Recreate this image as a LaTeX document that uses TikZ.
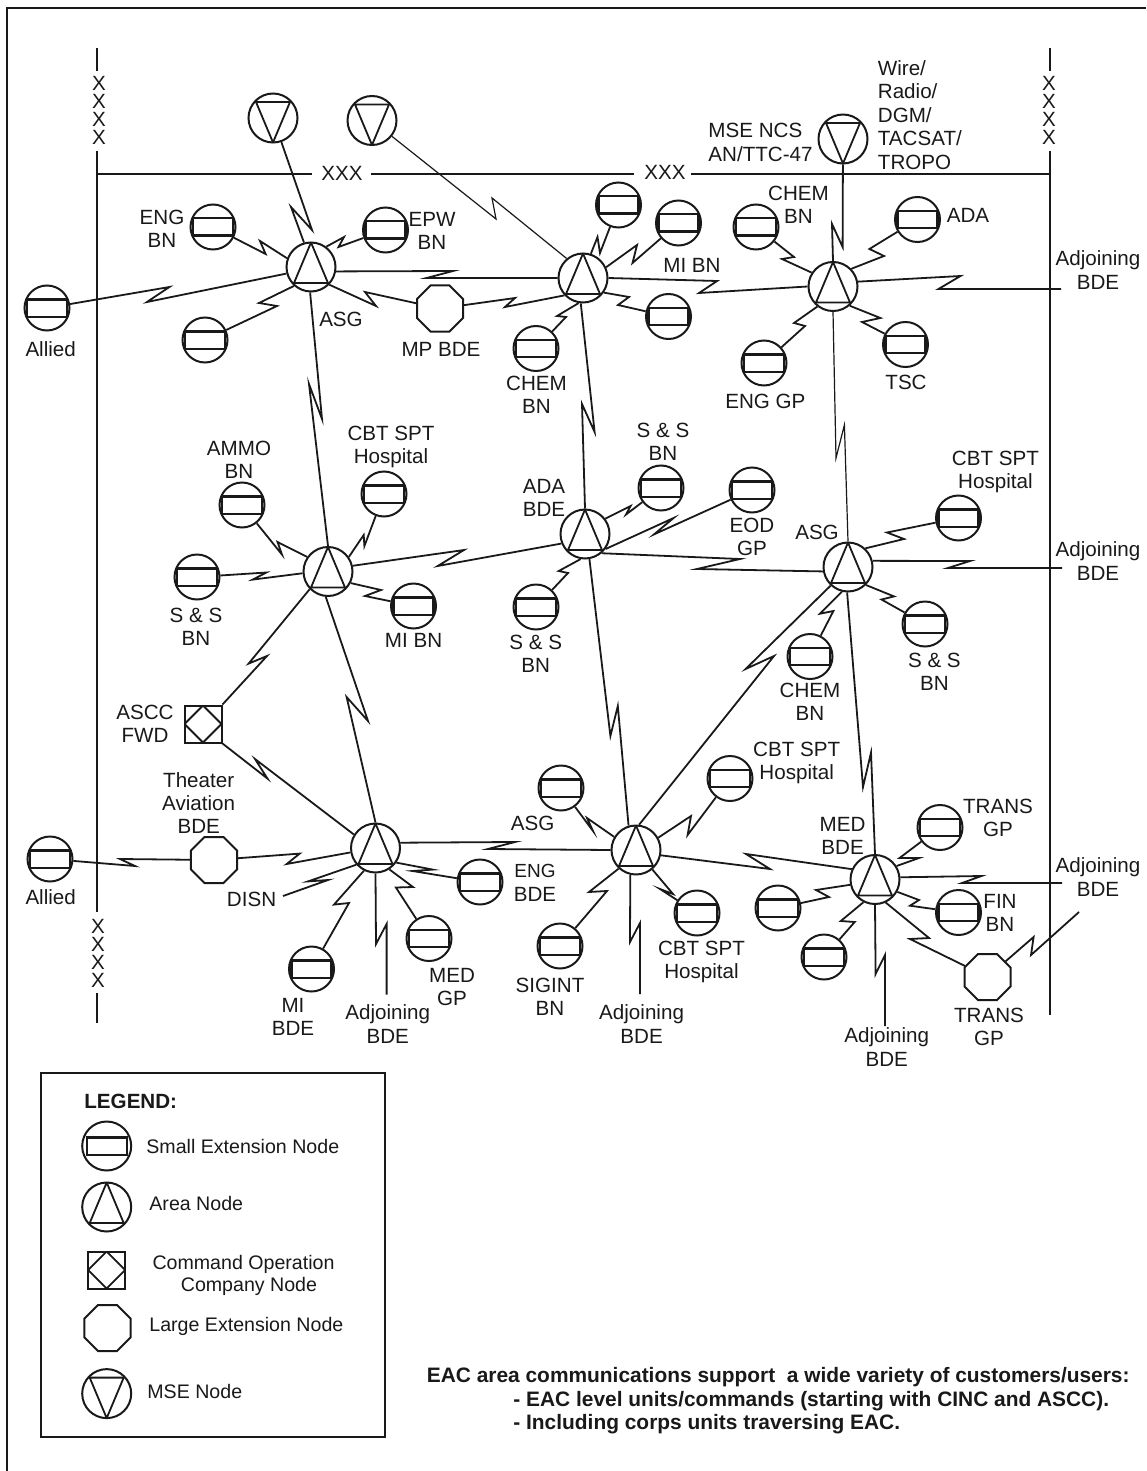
\documentclass[tikz,border=0pt]{standalone}
\usepackage{fontspec}
\setmainfont{Liberation Sans}
\usepackage{xcolor}
\usetikzlibrary{shapes.geometric}
\definecolor{ink}{gray}{0.1}
\tikzset{
	lbl/.style={inner sep=0pt,align=center,font=\fontsize{10.3}{11.7}\selectfont,text=ink},
	lgd/.style={inner sep=0pt,font=\fontsize{9.8}{10.8}\selectfont,text=ink},
	bold/.style={inner sep=0pt,anchor=west,font=\fontsize{10.3}{12}\selectfont\bfseries,text=ink},
	note/.style={bold,font=\fontsize{10.45}{12}\selectfont\bfseries},
	link/.style={draw=ink,line width=0.9pt,line join=miter},
	thinlink/.style={draw=ink,line width=0.6pt},
	bound/.style={draw=ink,line width=1pt},
	sen/.style={circle,draw=ink,line width=1pt,minimum size=#1,inner sep=0pt,path picture={
		\draw[line width=1.1pt,draw=ink] ([shift={(-10pt,-4.3pt)}]path picture bounding box.center) rectangle ([shift={(10pt,4.3pt)}]path picture bounding box.center);}},
	sen/.default=22.5pt,
	area/.style={circle,draw=ink,line width=1pt,minimum size=24.5pt,inner sep=0pt,path picture={
		\draw[line width=0.9pt,draw=ink] (path picture bounding box.north) -- ([shift={(-8.5pt,-8pt)}]path picture bounding box.center) -- ([shift={(8.5pt,-8pt)}]path picture bounding box.center) -- cycle;}},
	mse/.style={circle,draw=ink,line width=1pt,minimum size=24.5pt,inner sep=0pt,path picture={
		\draw[line width=0.9pt,draw=ink] (path picture bounding box.south) -- ([shift={(-8.5pt,8pt)}]path picture bounding box.center) -- ([shift={(8.5pt,8pt)}]path picture bounding box.center) -- cycle;}},
	len/.style={regular polygon,regular polygon sides=8,draw=ink,line width=1pt,minimum size=24.9pt,inner sep=0pt},
	coc/.style={rectangle,draw=ink,line width=1pt,minimum width=18.5pt,minimum height=18.5pt,inner sep=0pt,path picture={
		\draw[line width=0.9pt,draw=ink] (path picture bounding box.north) -- (path picture bounding box.east) -- (path picture bounding box.south) -- (path picture bounding box.west) -- cycle;}}
}
\begin{document}
\begin{tikzpicture}[x=0.5pt,y=-0.5pt]
	\useasboundingbox (0,0) rectangle (1146,1471);
	\draw[bound] (7,1471) -- (7,8) -- (1146,8);
	\draw[bound] (97,48) -- (97,71);
	\draw[bound] (97,151) -- (97,189);
	\draw[bound,line width=0.6pt] (97,189) -- (97,598);
	\draw[bound,line width=1.2pt] (97,598) -- (97,912);
	\draw[bound] (97,993) -- (97,1023);
	\draw[bound] (1050,48) -- (1050,71);
	\draw[bound] (1050,151) -- (1050,1015);
	\draw[bound] (97,174) -- (312,174);
	\draw[bound] (371,174) -- (634,174);
	\draw[bound] (691,174) -- (1050,174);
	\foreach \yy in {83,101,119,137} {
		\node [lbl] at (99,\yy) {X};
		\node [lbl] at (1049,\yy) {X};
	}
	\foreach \yy in {926,944,962,980} {
		\node [lbl] at (98,\yy) {X};
	}
	\node [lbl] (xxxa) at (342,173) {XXX};
	\node [lbl] (xxxb) at (665,172) {XXX};

	\node [mse] (msea) at (273,118) {};
	\node [mse] (mseb) at (372,120.5) {};
	\node [mse] (msec) at (843,139) {};
	\node [area] (areaa) at (311,267) {};
	\node [area] (areab) at (583,278) {};
	\node [area] (areac) at (833,286.5) {};
	\node [area] (aread) at (328,571.5) {};
	\node [area] (areae) at (585,534) {};
	\node [area] (areaf) at (848,567) {};
	\node [area] (areag) at (375.5,848) {};
	\node [area] (areah) at (636,850) {};
	\node [area] (areai) at (875,879.5) {};
	\node [len] (lena) at (440,308.5) {};
	\node [len] (lenb) at (214,860) {};
	\node [len] (lenc) at (987.5,977) {};
	\node [coc] (coca) at (203,724) {};

	\node [sen] (sena) at (213,227) {};
	\node [sen] (senb) at (385.5,230) {};
	\node [sen] (senc) at (47,308) {};
	\node [sen] (send) at (205,340) {};
	\node [sen] (sene) at (536,348.5) {};
	\node [sen] (senf) at (618.5,205) {};
	\node [sen] (seng) at (678.5,223) {};
	\node [sen] (senh) at (668.5,316.5) {};
	\node [sen] (seni) at (756,227) {};
	\node [sen] (senj) at (917.5,219.5) {};
	\node [sen] (senk) at (764,363) {};
	\node [sen] (senl) at (905.5,344.5) {};
	\node [sen] (senm) at (242,505) {};
	\node [sen] (senn) at (384,494) {};
	\node [sen] (seno) at (197,577) {};
	\node [sen] (senp) at (413.5,606) {};
	\node [sen] (senq) at (536,607) {};
	\node [sen] (senr) at (661,488) {};
	\node [sen] (sens) at (752,490) {};
	\node [sen] (sent) at (958.5,518) {};
	\node [sen] (senu) at (925,624) {};
	\node [sen] (senv) at (810,656.5) {};
	\node [sen] (senw) at (50,859) {};
	\node [sen] (senx) at (480,882) {};
	\node [sen] (seny) at (429,938.5) {};
	\node [sen] (senz) at (311.5,969) {};
	\node [sen] (senaa) at (561,788) {};
	\node [sen] (senab) at (560,946) {};
	\node [sen] (senac) at (730,778.5) {};
	\node [sen] (senad) at (697,913) {};
	\node [sen] (senae) at (940,827.5) {};
	\node [sen] (senaf) at (778,908) {};
	\node [sen] (senag) at (958.5,912.5) {};
	\node [sen] (senah) at (824,957) {};

	\coordinate (adja) at (1061,289);
	\coordinate (adjb) at (1062,568);
	\coordinate (adjc) at (1062,883);
	\coordinate (adjd) at (1079,912);
	\coordinate (adje) at (386.6,994.6);
	\coordinate (adjf) at (640,994);
	\coordinate (adjg) at (885,1026);
	\coordinate (disn) at (283,896);

	\draw[link] (msea) -- (312,230) -- (291,207) -- (areaa.106);
	\draw[thinlink] (mseb) -- (496,219) -- (492,198) -- (areab.130);
	\draw[link] (sena) -- (265.6,254) -- (260,241) -- (areaa.160);
	\draw[link] (senb) -- (338.5,247) -- (344,237) -- (areaa.53);
	\draw[link] (senc) -- (169.4,287) -- (147,302) -- (areaa.195);
	\draw[link] (send) -- (277,306) -- (259,303) -- (areaa.228);
	\draw[link] (areaa.350) -- (453,271) -- (426.6,278) -- (areab.west);
	\draw[link] (areaa.316) -- (376,306) -- (365,292) -- (lena);
	\draw[link] (lena) -- (515,298) -- (505,307) -- (areab.223);
	\draw[link] (sene) -- (566,317) -- (557,316) -- (areab.260);
	\draw[link] (areaa.268) -- (322,419) -- (309,384) -- (aread.north);
	\draw[link] (senf) -- (600,253) -- (597.5,237) -- (areab.72);
	\draw[link] (seng) -- (632.5,263) -- (637,245) -- (areab.25);
	\draw[link] (areab.east) -- (717,281) -- (699,293) -- (areac.west);
	\draw[link] (senh) -- (618,305) -- (629,297) -- (areab.325);
	\draw[link] (areab.265) -- (594.6,432) -- (582,404) -- (areae.north);
	\draw[link] (seni) -- (794,257) -- (782,259) -- (areac.147);
	\draw[link] (senj) -- (869.4,249) -- (884,256) -- (areac.44);
	\draw[link] (msec) -- (842.6,247) -- (832,224) -- (areac.north);
	\draw[link] (areac.11) -- (960.5,276) -- (938.5,289) -- (adja);
	\draw[link] (senl) -- (862,322) -- (880.4,318) -- (areac.311);
	\draw[link] (senk) -- (805,326) -- (794,323) -- (areac.232);
	\draw[thinlink] (areac.south) -- (836,458) -- (844.4,425) -- (areaf.north);

	\draw[link] (senm) -- (282,554.6) -- (277.5,542) -- (aread.145);
	\draw[link] (senn) -- (364.4,546) -- (363.7,535) -- (aread.35);
	\draw[link] (seno) -- (266.4,572.5) -- (252.7,579.6) -- (aread.184);
	\draw[link] (aread.13) -- (464,550) -- (437.7,566) -- (areae.202);
	\draw[link] (aread.333) -- (381,590) -- (365,596) -- (senp);
	\draw[link] (senq) -- (568,573) -- (558.7,571) -- (areae.260);
	\draw[link] (aread.224) -- (248.6,663.6) -- (267,656) -- (coca.north east);
	\draw[link] (aread.265) -- (368,721) -- (346.6,697) -- (areag.north);
	\draw[link] (coca.south east) -- (267.5,778.6) -- (255,759) -- (areag.148);
	\draw[link] (senw) -- (135,866) -- (120,859) -- (lenb);
	\draw[link] (lenb) -- (299.7,853.6) -- (286.7,864) -- (areag.190);
	\draw[link] (disn) -- (328,880) -- (308,881.4) -- (areag.221);
	\draw[link] (senz) -- (349,903) -- (334,904.6) -- (areag.243);
	\draw[link] (adje) -- (386.6,924) -- (376,944) -- (areag.south);
	\draw[link] (seny) -- (395.9,887.5) -- (413,887) -- (areag.303);
	\draw[link] (senx) -- (412.5,871) -- (432.8,869.6) -- (areag.325);
	\draw[link] (areag.12) -- (515,842) -- (488,849) -- (areah.west);

	\draw[link] (senaa) -- (593,831) -- (587,818) -- (areah.149);
	\draw[link] (senab) -- (607,891) -- (589,892) -- (areah.227);
	\draw[link] (adjf) -- (640,923) -- (630,942) -- (areah.257);
	\draw[link] (senad) -- (660,889) -- (673,894) -- (areah.310);
	\draw[link] (areae.280) -- (610.4,736) -- (617.8,706) -- (areah.107);
	\draw[link] (areaf.227) -- (745.6,669) -- (774,656) -- (areah.83);
	\draw[link] (senac) -- (687.6,835) -- (691,816) -- (areah.29);
	\draw[link] (areah.348) -- (770,869) -- (746,854) -- (areai.156);
	\draw[link] (areae.311) -- (740,559) -- (697,569) -- (areaf.190);
	\draw[link] (areae.324) -- (673.6,518) -- (654,534.4) -- (sens);
	\draw[link] (areae.37) -- (630.6,506) -- (626,514.5) -- (senr);
	\draw[link] (sent) -- (887,532.5) -- (904,539) -- (areaf.47);
	\draw[link] (areaf.14) -- (970,561) -- (948,568) -- (adjb);
	\draw[link] (senu) -- (881.5,599.5) -- (894,596.4) -- (areaf.315);
	\draw[link] (senv) -- (833.4,611) -- (820,613.7) -- (areaf.256);
	\draw[link] (areaf.268) -- (863,787) -- (871,752.6) -- (areai.north);
	\draw[link] (senae) -- (899.5,858) -- (919,858) -- (areai.32);
	\draw[link] (areai.5) -- (981.5,876) -- (962,883) -- (adjc);
	\draw[link] (senag) -- (910,905.7) -- (919,900) -- (areai.331);
	\draw[link] (senaf) -- (829,897) -- (816,890) -- (areai.192);
	\draw[link] (senah) -- (854.7,922) -- (840.8,921) -- (areai.243);
	\draw[link] (adjg) -- (885,955) -- (875.6,974) -- (areai.south);
	\draw[link] (areai.295) -- (929,938) -- (910,939) -- (lenc);
	\draw[link] (lenc) -- (1033.6,937) -- (1031,955) -- (adjd);

	\node [lbl] (la) at (162,229) {ENG\\BN};
	\node [lbl] (lb) at (432,231) {EPW\\BN};
	\node [lbl] (lc) at (341,319) {ASG};
	\node [lbl] (ld) at (50.7,349) {Allied};
	\node [lbl] (le) at (441,349) {MP BDE};
	\node [lbl] (lf) at (536.5,395) {CHEM\\BN};
	\node [lbl] (lg) at (391,447) {CBT SPT\\Hospital};
	\node [lbl] (lh) at (239,460) {AMMO\\BN};
	\node [lbl] (li) at (544,498) {ADA\\BDE};
	\node [lbl,anchor=west,align=left] (lj) at (877.5,115) {Wire/\\Radio/\\DGM/\\TACSAT/\\TROPO};
	\node [lbl,anchor=west,align=left] (lk) at (708,142.5) {MSE NCS\\AN/TTC-47};
	\node [lbl] (ll) at (798.5,205) {CHEM\\BN};
	\node [lbl] (lm) at (968,215) {ADA};
	\node [lbl] (ln) at (692,265) {MI BN};
	\node [lbl] (lo) at (1098,270) {Adjoining\\BDE};
	\node [lbl] (lp) at (906,382) {TSC};
	\node [lbl] (lq) at (765.4,401) {ENG GP};
	\node [lbl] (lr) at (663,442) {S \& S\\BN};
	\node [lbl] (ls) at (995.4,472) {CBT SPT\\Hospital};
	\node [lbl] (lt) at (752,537) {EOD\\GP};
	\node [lbl] (lu) at (817,532.5) {ASG};
	\node [lbl] (lv) at (1098,561) {Adjoining\\BDE};
	\node [lbl] (lw) at (934.4,672) {S \& S\\BN};
	\node [lbl] (lx) at (810,702) {CHEM\\BN};
	\node [lbl] (ly) at (796.7,763) {CBT SPT\\Hospital};
	\node [lbl] (lz) at (998,818) {TRANS\\GP};
	\node [lbl] (laa) at (842.6,836) {MED\\BDE};
	\node [lbl] (lab) at (1098,877) {Adjoining\\BDE};
	\node [lbl] (lac) at (1000,913) {FIN\\BN};
	\node [lbl] (lad) at (701.5,962) {CBT SPT\\Hospital};
	\node [lbl] (lae) at (641.6,1024) {Adjoining\\BDE};
	\node [lbl] (laf) at (886.7,1047) {Adjoining\\BDE};
	\node [lbl] (lag) at (989,1027) {TRANS\\GP};
	\node [lbl] (lah) at (196,626.6) {S \& S\\BN};
	\node [lbl] (lai) at (413.6,640) {MI BN};
	\node [lbl] (laj) at (535.7,654) {S \& S\\BN};
	\node [lbl] (lak) at (145,724) {ASCC\\FWD};
	\node [lbl] (lal) at (198.7,803) {Theater\\Aviation\\BDE};
	\node [lbl] (lam) at (50.7,897) {Allied};
	\node [lbl] (lan) at (251.6,899) {DISN};
	\node [lbl] (lao) at (535,883) {{\fontsize{9.5}{11.7}\selectfont ENG}\\BDE};
	\node [lbl] (lap) at (532.7,823) {ASG};
	\node [lbl] (laq) at (293,1017) {MI\\BDE};
	\node [lbl] (lar) at (387.7,1024) {Adjoining\\BDE};
	\node [lbl] (las) at (452,987) {MED\\GP};
	\node [lbl] (lat) at (550,997) {SIGINT\\BN};

	\draw[line width=1.2pt,draw=ink] (40.7,1073) rectangle (385,1437);
	\node [bold] (lgdt) at (84,1101) {LEGEND:};
	\node [sen=24.5pt] (lgda) at (106.7,1146) {};
	\node [area] (lgdb) at (106.7,1207) {};
	\node [coc] (lgdc) at (106.7,1270) {};
	\node [len] (lgdd) at (107.5,1328) {};
	\node [mse] (lgde) at (106.7,1393.6) {};
	\node [lgd,anchor=west] (lgdf) at (146,1146.7) {Small Extension Node};
	\node [lgd,anchor=west] (lgdg) at (149,1203) {Area Node};
	\node [lgd,align=center] (lgdh) at (243.5,1275.5) {Command Operation\\\ \ Company Node};
	\node [lgd,anchor=west] (lgdi) at (149,1326.7) {Large Extension Node};
	\node [lgd,anchor=west] (lgdj) at (147,1391.7) {MSE Node};

	\node [note] (nota) at (426.5,1377) {EAC area communications support\ \ a wide variety of customers/users:};
	\node [note] (notb) at (513,1401) {- EAC level units/commands (starting with CINC and ASCC).};
	\node [note] (notc) at (513,1424) {- Including corps units traversing EAC.};
\end{tikzpicture}
\end{document}
